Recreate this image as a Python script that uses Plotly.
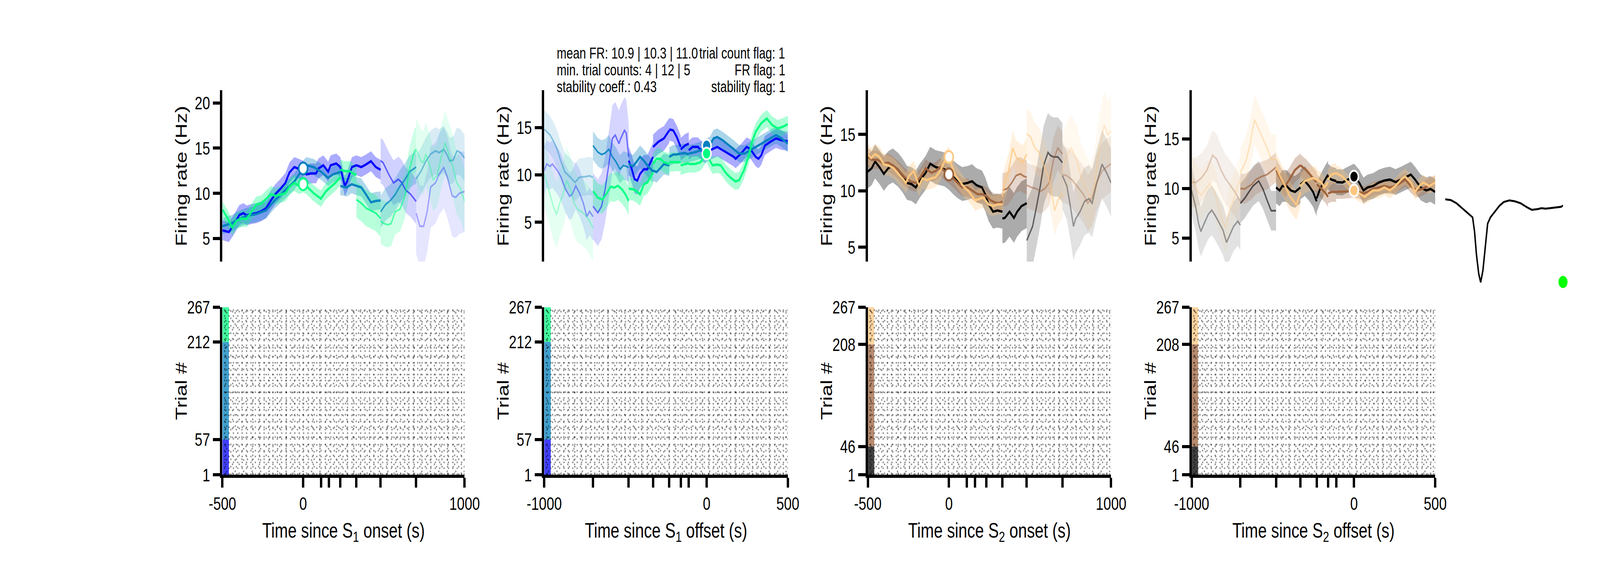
import plotly.graph_objects as go

# ---------------------------------------------------------------- data
S1_DURATIONS = [110, 160, 230, 330, 480, 700]
S1_TRIAL_EDGES = [1, 57, 212, 267]
S2_TRIAL_EDGES = [1, 46, 208, 267]

WINTER = ["#0000ff", "#0080bf", "#00ff80"]
COPPER = ["#000000", "#9f643f", "#ffc77f"]

# --- S1 onset
S1ON_BLUE_T = [-500, -460, -430, -395, -370, -350, -320, -290, -260, -230, -200, -170, -140, -110, -85, -55, -25, 0,
               20, 50, 80, 95, 125, 155, 170, 205, 230, 258, 272, 302, 330, 360, 390, 420, 450, 480,
               480, 495, 530, 560, 590, 612, 635, 665, 700,
               700, 723, 746, 768, 790, 820, 842, 871, 893, 923, 945, 968, 1000]
S1ON_BLUE_FR = [5.9, 5.7, 6.5, 7.6, 7.8, 7.55, 7.7, 7.8, 8.0, 8.35, 9.2, 9.95, 10.5, 11.15, 12.3, 12.9, 12.7, 12.5,
                12.1, 12.2, 12.2, 12.75, 13.1, 12.4, 13.1, 13.3, 12.9, 10.8, 11.3, 12.9, 13.1, 12.9, 13.2, 13.55, 12.9, 12.6,
                13.6, 13.4, 12.1, 11.15, 11.55, 11.15, 10.35, 9.9, 9.1,
                7.8, 6.35, 6.35, 7.95, 10.7, 11.15, 12.1, 12.85, 11.8, 9.7, 9.55, 10.0, 10.2]
S1ON_BLUE_ALPHA = [1, 0.55, 0.3]
S1ON_BLUE_SEM = [1.1, 2.5, 4.5]

S1ON_TEAL_T = [-500, -440, -395, -350, -290, -230, -185, -140, -100, -55, -25, 0, 20, 65, 110, 155, 185, 230,
               230, 270, 300, 330, 360, 390, 420, 450, 480,
               480, 510, 540, 570, 600, 630, 660, 700,
               700, 730, 760, 790, 820, 842, 871, 893, 908, 930, 953, 975, 1000]
S1ON_TEAL_FR = [6.35, 6.7, 7.15, 7.5, 7.7, 8.1, 9.05, 9.85, 10.5, 11.3, 12.1, 12.75, 13.1, 12.9, 12.4, 11.7, 12.1, 12.35,
                10.8, 10.65, 11.0, 10.8, 10.65, 9.85, 9.0, 9.15, 9.2,
                7.95, 8.75, 9.2, 9.85, 10.8, 11.5, 12.4, 12.9,
                11.6, 12.45, 13.55, 14.35, 14.7, 14.5, 14.85, 14.2, 13.55, 13.7, 14.7, 14.5, 13.9]
S1ON_TEAL_ALPHA = [1, 0.95, 0.75, 0.45]
S1ON_TEAL_SEM = [0.9, 1.0, 1.8, 2.6]

S1ON_GREEN_T = [-500, -470, -440, -410, -380, -350, -320, -290, -260, -230, -200, -170, -140, -110, -85, -55, -25, 0,
                20, 65, 110, 140, 170, 200, 230,
                230, 260, 290, 315, 330,
                330, 360, 390, 420, 450, 480,
                480, 500, 525, 545, 570, 600, 630, 660, 690, 700,
                700, 730, 745, 760, 785, 805, 830, 855, 880, 905, 930, 950, 975, 1000]
S1ON_GREEN_FR = [8.2, 7.3, 6.2, 7.0, 7.2, 7.15, 7.95, 8.75, 8.85, 9.4, 9.9, 9.7, 9.85, 10.0, 10.7, 11.15, 10.8, 11.0,
                 10.8, 10.0, 9.4, 10.2, 10.7, 11.15, 11.8,
                 12.6, 12.45, 12.45, 12.1, 12.1,
                 9.3, 8.9, 8.35, 8.1, 7.8, 7.2,
                 6.9, 6.65, 6.5, 6.65, 7.95, 8.25, 9.7, 12.75, 14.7, 14.85,
                 14.85, 13.55, 13.4, 14.35, 13.0, 11.5, 12.0, 14.0, 15.6, 14.2, 12.8, 11.2, 10.5, 9.1]
S1ON_GREEN_ALPHA = [1, 1, 0.85, 0.6, 0.35]
S1ON_GREEN_SEM = [0.9, 1.1, 2.0, 2.5, 3.5]

S1ON_MARK = [12.75, 12.75, 11.0]

# --- S1 offset
S1OFF_BLUE_T = [-1000, -985, -964, -950, -919, -896, -873, -845, -828, -806, -783, -760, -738, -721, -700,
                -700, -670, -647, -625, -602, -580, -563, -540, -529, -506, -495, -480,
                -480, -461, -444, -427, -410, -387, -365, -330,
                -330, -297, -263, -230,
                -230, -206, -184, -160,
                -160, -133, -110,
                -110, -87, -54, -14, 20, 42, 65, 99, 133, 167, 178, 212, 246, 268, 302, 319, 336, 359, 393, 427, 461, 500]
S1OFF_BLUE_FR = [10.45, 11.15, 10.9, 11.15, 10.45, 9.75, 8.65, 7.75, 7.95, 8.85, 8.1, 7.05, 5.6, 6.15, 5.6,
                 6.7, 6.0, 6.7, 8.5, 11.15, 13.85, 14.2, 13.3, 13.85, 14.7, 14.4, 11.9,
                 11.5, 10.6, 9.55, 9.4, 10.1, 10.6, 10.6, 11.9,
                 12.95, 13.5, 13.85, 14.7,
                 14.8, 14.7, 14.0, 12.95,
                 12.7, 13.1, 13.3,
                 12.6, 12.95, 12.95, 12.25, 12.6, 12.75, 12.95, 12.6, 12.25, 11.9, 11.7, 12.25, 12.95, 12.75, 11.9, 11.7,
                 12.05, 13.1, 13.5, 13.85, 13.65, 13.55]
S1OFF_BLUE_ALPHA = [0.35, 0.5, 0.95, 1, 1, 1, 1]
S1OFF_BLUE_SEM = [2.5, 3.5, 1.5, 1.3, 1.2, 1.2, 1.0]

S1OFF_TEAL_T = [-1000, -992, -964, -941, -919, -896, -873, -839, -811, -783, -749, -721, -700,
                -700, -670, -647, -625, -602, -580, -557, -534, -512, -480,
                -480, -455, -433, -410, -387, -365, -330,
                -330, -308, -286, -263, -230,
                -230, -206, -184, -160,
                -160, -133, -110,
                -110, -71, -37, 0, 20, 42, 65, 99, 133, 167, 200, 234, 268, 302, 336, 370, 404, 427, 461, 500]
S1OFF_TEAL_FR = [14.8, 14.7, 14.2, 13.5, 12.6, 11.35, 10.3, 9.75, 9.2, 9.75, 9.8, 9.9, 9.75,
                 13.1, 12.4, 12.15, 12.3, 12.7, 11.9, 11.35, 10.6, 11.0, 10.8,
                 11.15, 10.9, 11.35, 11.9, 11.5, 11.0, 10.35,
                 10.45, 10.3, 10.7, 11.15, 11.0,
                 11.9, 12.15, 12.15, 12.25,
                 12.25, 12.3, 12.15,
                 12.25, 12.4, 12.6, 12.95, 13.1, 13.85, 14.0, 13.65, 13.2, 12.75, 12.25, 12.25, 12.6, 12.95, 13.3, 13.65,
                 14.0, 14.2, 13.85, 13.3]
S1OFF_TEAL_ALPHA = [0.4, 0.85, 1, 1, 1, 1, 1]
S1OFF_TEAL_SEM = [2.0, 1.5, 1.2, 1.1, 1.0, 1.0, 0.9]

S1OFF_GREEN_T = [-1000, -964, -941, -924, -907, -885, -862, -839, -817, -794, -772, -749, -726, -700,
                 -700, -670, -642, -619, -591, -569, -546, -523, -500, -480,
                 -480, -455, -433, -410, -387, -365, -330,
                 -330, -308, -286, -263, -230,
                 -230, -206, -184, -160,
                 -160, -133, -110,
                 -110, -71, -37, 0, 20, 37, 65, 87, 116, 144, 178, 200, 229, 257, 280, 302, 336, 370, 404, 438, 472, 500]
S1OFF_GREEN_FR = [10.1, 7.95, 6.5, 5.8, 6.9, 7.95, 9.4, 8.5, 7.05, 6.35, 6.15, 5.8, 5.25, 4.4,
                  8.3, 7.6, 7.4, 7.95, 8.75, 8.65, 8.85, 8.5, 7.95, 7.25,
                  8.55, 8.5, 8.3, 7.95, 9.0, 9.2, 10.25,
                  11.15, 11.7, 11.7, 11.35, 11.15,
                  11.35, 11.35, 11.4, 11.35,
                  11.0, 11.15, 11.25,
                  11.15, 11.15, 11.35, 12.25, 11.5, 11.0, 11.1, 11.0, 10.25, 9.75, 9.3, 9.45, 10.45, 11.9, 13.5, 14.55,
                  15.45, 15.95, 15.25, 14.9, 15.1, 15.35]
S1OFF_GREEN_ALPHA = [0.3, 0.9, 1, 1, 1, 1, 1]
S1OFF_GREEN_SEM = [3.5, 1.5, 1.2, 1.1, 1.0, 1.0, 0.9]

S1OFF_MARK = [13.1, 13.1, 12.25]

# --- S2 onset
S2ON_BLACK_T = [-500, -476, -455, -428, -401, -374, -346, -312, -285, -258, -231, -204, -177, -143, -115, -82, -54, -27,
                0, 27, 54, 82, 115, 143, 170, 204, 224, 245, 272, 299, 330,
                330, 345, 374, 401, 421, 448, 480,
                480, 516, 543, 564, 584, 611, 625, 645, 672, 700,
                700, 727, 747, 768, 781, 808, 836, 863, 883, 910, 944, 972, 1000]
S2ON_BLACK_FR = [11.7, 12.0, 12.6, 12.1, 11.5, 12.0, 12.25, 11.85, 11.35, 10.7, 10.6, 10.3, 10.95, 11.6, 12.4, 12.1, 12.0, 11.9,
                 11.6, 11.2, 10.85, 10.6, 10.7, 10.85, 10.5, 10.3, 9.7, 8.8, 8.15, 8.25, 8.15,
                 7.55, 7.6, 8.15, 7.6, 8.15, 8.65, 8.9,
                 5.6, 6.85, 8.8, 10.45, 12.25, 13.4, 13.15, 13.0, 13.0, 12.5,
                 11.35, 10.45, 8.8, 6.85, 7.5, 8.15, 9.05, 9.3, 8.9, 10.6, 12.35, 11.6, 10.7]
S2ON_BLACK_ALPHA = [1, 1, 0.55, 0.35]
S2ON_BLACK_SEM = [1.5, 2.2, 3.5, 3.0]

S2ON_BROWN_T = [-500, -476, -440, -401, -374, -346, -306, -272, -238, -204, -177, -143, -109, -82, -54, 0, 27, 54, 82,
                115, 143, 177, 204, 231, 258, 285, 310, 330,
                330, 360, 387, 414, 441, 461, 480,
                480, 510, 537, 564, 591, 618, 645, 672, 700,
                700, 727, 761, 795, 829, 856, 883, 910, 944, 972, 1000]
S2ON_BROWN_FR = [13.0, 12.75, 12.75, 12.4, 12.5, 12.25, 11.75, 11.2, 10.85, 10.7, 11.2, 12.0, 11.6, 11.75, 12.1, 11.45, 11.1,
                 10.7, 10.3, 10.3, 10.05, 9.7, 9.7, 9.55, 9.15, 8.95, 8.9, 9.05,
                 10.05, 10.2, 10.7, 11.35, 11.5, 11.3, 11.2,
                 10.5, 10.3, 10.2, 9.95, 10.2, 10.7, 12.75, 13.8, 13.25,
                 11.45, 11.35, 10.95, 10.3, 9.7, 8.9, 9.4, 10.7, 11.75, 12.1, 12.4]
S2ON_BROWN_ALPHA = [1, 0.8, 0.5, 0.35]
S2ON_BROWN_SEM = [0.8, 1.5, 2.0, 2.5]

S2ON_ORANGE_T = [-500, -480, -455, -428, -401, -374, -340, -312, -285, -265, -245, -217, -197, -184, -163, -136, -109, -82,
                 -54, -27, 0, 20, 41, 68, 95, 122, 143, 163, 190, 211, 231, 245, 272, 299, 330,
                 330, 340, 367, 394, 414, 435, 455, 480,
                 480, 503, 530, 557, 584, 611, 632, 652, 672, 700,
                 700, 727, 754, 788, 815, 842, 870, 897, 924, 958, 979, 1000]
S2ON_ORANGE_FR = [13.25, 12.9, 13.25, 13.0, 12.35, 12.25, 12.0, 11.5, 11.1, 10.7, 11.35, 11.75, 10.95, 10.45, 11.1, 10.95,
                  11.1, 11.2, 11.75, 12.6, 13.0, 12.1, 11.35, 10.85, 10.3, 9.95, 9.55, 9.15, 9.3, 9.4, 9.05, 8.8, 8.65, 8.8, 8.8,
                  9.5, 10.45, 11.75, 13.8, 13.0, 12.75, 12.5, 13.25,
                  15.05, 14.8, 13.8, 13.4, 12.25, 11.35, 9.95, 8.25, 9.15, 9.8,
                  11.75, 13.0, 13.8, 12.75, 11.2, 10.3, 9.4, 10.45, 13.5, 15.85, 14.95, 15.3]
S2ON_ORANGE_ALPHA = [1, 0.8, 0.55, 0.35]
S2ON_ORANGE_SEM = [0.9, 1.5, 2.2, 3.0]

S2ON_MARK = [11.45, 11.45, 13.0]

# --- S2 offset
S2OFF_BLACK_T = [-1000, -974, -957, -943, -923, -897, -876, -854, -828, -807, -785, -768, -742, -716, -700,
                 -700, -673, -647, -622, -587, -561, -536, -510, -480,
                 -480, -458, -441, -415, -389, -363, -330,
                 -330, -303, -277, -252, -230,
                 -230, -209, -183, -160,
                 -160, -140, -110,
                 -110, -71, -37, 0, 32, 58, 84, 118, 153, 187, 221, 256, 290, 325, 350, 376, 411, 445, 471, 500]
S2OFF_BLACK_FR = [9.8, 8.05, 6.45, 5.65, 6.45, 7.4, 7.8, 7.25, 6.45, 5.8, 4.55, 5.2, 6.15, 6.7, 6.3,
                  8.5, 9.0, 9.65, 10.25, 10.75, 9.95, 8.85, 7.75, 7.75,
                  10.1, 9.8, 10.25, 10.25, 9.8, 9.65, 10.1,
                  10.4, 10.75, 10.25, 9.65, 8.7,
                  9.0, 9.95, 10.75, 11.4,
                  11.2, 10.9, 10.75,
                  10.65, 10.6, 10.9, 11.2, 10.6, 9.8, 10.1, 10.25, 10.6, 10.8, 10.9, 10.65, 10.9, 11.2, 11.4, 10.9, 10.1,
                  9.8, 9.95, 9.65]
S2OFF_BLACK_ALPHA = [0.35, 0.6, 1, 1, 1, 1, 1]
S2OFF_BLACK_SEM = [2.5, 2.0, 1.6, 1.5, 1.4, 1.3, 1.3]

S2OFF_BROWN_T = [-1000, -974, -940, -905, -871, -845, -819, -794, -759, -733, -700,
                 -700, -673, -630, -605, -570, -536, -501, -480,
                 -480, -450, -424, -398, -364, -330,
                 -330, -295, -260, -230,
                 -230, -200, -174, -160,
                 -160, -136, -110,
                 -110, -71, -37, 0, 32, 58, 84, 118, 153, 187, 221, 256, 290, 316, 350, 385, 419, 454, 500]
S2OFF_BROWN_FR = [10.65, 10.6, 11.05, 11.85, 13.35, 12.95, 11.85, 11.05, 10.25, 9.65, 8.7,
                  10.0, 9.95, 10.4, 10.9, 11.2, 11.4, 11.85, 12.15,
                  11.85, 10.9, 10.25, 10.9, 11.85, 12.35,
                  12.35, 11.85, 11.2, 10.6,
                  10.45, 9.95, 9.5, 9.15,
                  9.5, 9.65, 9.65,
                  9.65, 9.65, 9.7, 9.8, 9.65, 9.5, 9.65, 9.95, 10.1, 10.25, 10.1, 10.25, 10.6, 10.9, 10.25, 9.8, 9.95,
                  10.25, 10.6]
S2OFF_BROWN_ALPHA = [0.3, 0.7, 1, 1, 1, 1, 1]
S2OFF_BROWN_SEM = [2.5, 1.5, 1.2, 1.1, 1.0, 1.0, 0.7]

S2OFF_ORANGE_T = [-1000, -974, -940, -914, -888, -862, -837, -811, -790, -768, -742, -716, -700,
                  -700, -665, -639, -613, -587, -561, -536, -510, -480,
                  -480, -450, -424, -398, -372, -355, -330,
                  -330, -303, -277, -252, -230,
                  -230, -200, -183, -160,
                  -160, -140, -110,
                  -110, -71, -37, 0, 32, 66, 92, 118, 153, 187, 221, 256, 290, 316, 350, 376, 402, 428, 462, 500]
S2OFF_ORANGE_FR = [11.05, 9.95, 9.3, 9.95, 10.45, 9.8, 8.35, 6.8, 6.0, 7.75, 8.85, 10.25, 10.9,
                   11.55, 12.8, 14.55, 16.95, 16.0, 15.05, 14.1, 12.95, 12.95,
                   12.15, 11.05, 10.25, 9.3, 8.7, 8.35, 9.65,
                   10.25, 10.75, 10.9, 11.05, 10.9,
                   10.9, 10.6, 10.1, 10.6,
                   10.9, 11.4, 11.55,
                   11.55, 11.2, 10.6, 9.8, 9.5, 9.15, 9.5, 9.8, 9.8, 10.1, 9.8, 10.25, 10.9, 11.2, 10.6, 9.65, 10.25,
                   10.6, 10.25, 10.6]
S2OFF_ORANGE_ALPHA = [0.3, 0.45, 0.9, 1, 1, 1, 1]
S2OFF_ORANGE_SEM = [2.5, 2.5, 1.5, 1.2, 1.0, 1.0, 0.8]

S2OFF_MARK = [11.2, 9.8, 9.8]

# --- unit waveform (samples, arbitrary units)
WF_T = [0, 2, 4, 6, 7.5, 9, 9.8, 10.5, 11.2, 12, 12.7, 13.5, 14.3, 15.2, 16.2, 18, 19.5, 21, 23, 25, 27, 29, 31, 33,
        34.5, 36, 38, 40, 41.5, 42.2]
WF_V = [0, -0.5, -2.5, -5.5, -8, -10.3, -11.5, -20.5, -35.5, -47.5, -53, -45.5, -30.5, -15.5, -11.5, -7.5, -4, -1.7,
        -0.7, -1.3, -2.5, -4.8, -6.7, -6.3, -5.7, -6, -5.5, -5.2, -4.8, -4]
UNIT_DOT_T, UNIT_DOT_V = 42.2, -52.8

# --- quality metrics
MEAN_FR = [10.9, 10.3, 11.0]
MIN_TRIALS = [4, 12, 5]
STABILITY_COEFF = 0.43
FLAG_NAMES = ["trial count flag", "FR flag", "stability flag"]
FLAG_VALUES = [1, 1, 1]

# ---------------------------------------------------------------- layout (pixels of the 5469x1437 canvas)
FIG_W, FIG_H = 5469, 1437
PANEL_X = [(715, 1560), (1838, 2688), (2967, 3816), (4097, 4947)]
TOP_Y = (212, 668)
RASTER_Y = (789, 1235)
TITLE_X = [571, 1694, 2823, 3953]
XTITLE_Y = 1386
WF_X, WF_Y = (4982, 5393), (480, 740)

FONT = "Liberation Sans"
TICK_SIZE, TITLE_SIZE, NOTE_SIZE = 47, 54, 40
SPINE_W, TICK_LEN = 8, 25
BAND_ALPHA, STRIP_ALPHA, STRIP_MS = 0.33, 0.75, 40
# spike texture: four incommensurate dot lattices (cell size px, dot solidity)
PATTERN_LAYERS = [(15, 0.068), (19, 0.042), (23, 0.029), (29, 0.018)]


def px_x(x):
    return x / FIG_W


def px_y(y):
    return 1 - y / FIG_H


def rgba(hex_color, a):
    h = hex_color.lstrip("#")
    r, g, b = int(h[0:2], 16), int(h[2:4], 16), int(h[4:6], 16)
    return f"rgba({r},{g},{b},{a:.3f})"


def segments(t, fr):
    assert len(t) == len(fr)
    out = [([t[0]], [fr[0]])]
    for a, b in zip(t[1:], fr[1:]):
        if a == out[-1][0][-1]:
            out.append(([a], [b]))
        else:
            out[-1][0].append(a)
            out[-1][1].append(b)
    return out


def axis_ids(n):
    return ("x", "y") if n == 1 else (f"x{n}", f"y{n}")


PANELS = [
    dict(xr=(-500, 1000), yr=(2.42, 21.41), yt=[5, 10, 15, 20], colors=WINTER, onset=True,
         curves=[(S1ON_BLUE_T, S1ON_BLUE_FR, S1ON_BLUE_ALPHA, S1ON_BLUE_SEM),
                 (S1ON_TEAL_T, S1ON_TEAL_FR, S1ON_TEAL_ALPHA, S1ON_TEAL_SEM),
                 (S1ON_GREEN_T, S1ON_GREEN_FR, S1ON_GREEN_ALPHA, S1ON_GREEN_SEM)],
         marks=S1ON_MARK, edges=S1_TRIAL_EDGES, xtitle="Time since S<sub>1</sub> onset (s)"),
    dict(xr=(-1000, 500), yr=(0.84, 18.93), yt=[5, 10, 15], colors=WINTER, onset=False,
         curves=[(S1OFF_BLUE_T, S1OFF_BLUE_FR, S1OFF_BLUE_ALPHA, S1OFF_BLUE_SEM),
                 (S1OFF_TEAL_T, S1OFF_TEAL_FR, S1OFF_TEAL_ALPHA, S1OFF_TEAL_SEM),
                 (S1OFF_GREEN_T, S1OFF_GREEN_FR, S1OFF_GREEN_ALPHA, S1OFF_GREEN_SEM)],
         marks=S1OFF_MARK, edges=S1_TRIAL_EDGES, xtitle="Time since S<sub>1</sub> offset (s)"),
    dict(xr=(-500, 1000), yr=(3.72, 18.91), yt=[5, 10, 15], colors=COPPER, onset=True,
         curves=[(S2ON_BLACK_T, S2ON_BLACK_FR, S2ON_BLACK_ALPHA, S2ON_BLACK_SEM),
                 (S2ON_BROWN_T, S2ON_BROWN_FR, S2ON_BROWN_ALPHA, S2ON_BROWN_SEM),
                 (S2ON_ORANGE_T, S2ON_ORANGE_FR, S2ON_ORANGE_ALPHA, S2ON_ORANGE_SEM)],
         marks=S2ON_MARK, edges=S2_TRIAL_EDGES, xtitle="Time since S<sub>2</sub> onset (s)"),
    dict(xr=(-1000, 500), yr=(2.6, 19.92), yt=[5, 10, 15], colors=COPPER, onset=False,
         curves=[(S2OFF_BLACK_T, S2OFF_BLACK_FR, S2OFF_BLACK_ALPHA, S2OFF_BLACK_SEM),
                 (S2OFF_BROWN_T, S2OFF_BROWN_FR, S2OFF_BROWN_ALPHA, S2OFF_BROWN_SEM),
                 (S2OFF_ORANGE_T, S2OFF_ORANGE_FR, S2OFF_ORANGE_ALPHA, S2OFF_ORANGE_SEM)],
         marks=S2OFF_MARK, edges=S2_TRIAL_EDGES, xtitle="Time since S<sub>2</sub> offset (s)"),
]

fig = go.Figure()
layout = {}
annotations = []

axis_common = dict(showline=True, linewidth=SPINE_W, linecolor="black", ticks="outside",
                   ticklen=TICK_LEN, tickwidth=SPINE_W, tickcolor="black",
                   tickfont=dict(size=TICK_SIZE, color="black", family=FONT),
                   showgrid=False, zeroline=False, fixedrange=True)

for i, p in enumerate(PANELS):
    xa, ya = axis_ids(2 * i + 1)
    xb, yb = axis_ids(2 * i + 2)
    x0, x1 = PANEL_X[i]
    xdom = [px_x(x0), px_x(x1)]

    # ---- firing rate traces: bands first, then lines
    lines = []
    for c, (t, fr, alphas, sems) in enumerate(p["curves"]):
        col = p["colors"][c]
        segs = segments(t, fr)
        assert len(segs) == len(alphas) == len(sems)
        for k, (st, sf) in enumerate(segs):
            up = [v + sems[k] for v in sf]
            lo = [v - sems[k] for v in sf]
            fig.add_trace(go.Scatter(
                x=st + st[::-1], y=up + lo[::-1], fill="toself", mode="lines",
                line=dict(width=0), fillcolor=rgba(col, BAND_ALPHA * alphas[k]),
                hoverinfo="skip", showlegend=False, xaxis=xa, yaxis=ya))
            lines.append((st, sf, rgba(col, alphas[k]), 6 if alphas[k] >= 0.9 else 4.5))
    for st, sf, col, w in lines:
        fig.add_trace(go.Scatter(x=st, y=sf, mode="lines", line=dict(color=col, width=w),
                                 hoverinfo="skip", showlegend=False, xaxis=xa, yaxis=ya))
    for c, v in enumerate(p["marks"]):
        col = p["colors"][c]
        fill, edge = ("white", col) if p["onset"] else (col, "white")
        fig.add_trace(go.Scatter(x=[0], y=[v], mode="markers",
                                 marker=dict(size=30, color=fill, line=dict(color=edge, width=5)),
                                 hoverinfo="skip", showlegend=False, xaxis=xa, yaxis=ya))

    # ---- raster: condition strip + spike texture
    e = p["edges"]
    span = p["xr"][1] - p["xr"][0]
    for c in range(3):
        fig.add_trace(go.Bar(orientation="h", y=[(e[c] + e[c + 1]) / 2], width=[e[c + 1] - e[c]],
                             x=[STRIP_MS], base=[p["xr"][0]],
                             marker=dict(color=rgba(p["colors"][c], STRIP_ALPHA), line=dict(width=0)),
                             hoverinfo="skip", showlegend=False, xaxis=xb, yaxis=yb))
    for size, sol in PATTERN_LAYERS:
        fig.add_trace(go.Bar(orientation="h", y=[(e[0] + e[-1]) / 2], width=[e[-1] - e[0]],
                             x=[span], base=[p["xr"][0]],
                             marker=dict(color="black", line=dict(width=0),
                                         pattern=dict(shape=".", size=size, solidity=sol,
                                                      fgcolor="black", bgcolor="rgba(0,0,0,0)")),
                             hoverinfo="skip", showlegend=False, xaxis=xb, yaxis=yb))

    minor_vals = S1_DURATIONS if p["onset"] else [-d for d in S1_DURATIONS]
    major_vals = [p["xr"][0], 0, p["xr"][1]]

    layout["xaxis" if i == 0 else f"xaxis{2 * i + 1}"] = dict(
        domain=xdom, range=list(p["xr"]), visible=False, anchor=ya, fixedrange=True)
    layout["yaxis" if i == 0 else f"yaxis{2 * i + 1}"] = dict(
        axis_common, domain=[px_y(TOP_Y[1]), px_y(TOP_Y[0])], range=list(p["yr"]),
        tickvals=p["yt"], anchor=xa)
    layout[f"xaxis{2 * i + 2}"] = dict(
        axis_common, domain=xdom, range=list(p["xr"]), tickvals=major_vals,
        ticktext=[str(v) for v in major_vals], anchor=yb,
        minor=dict(tickvals=minor_vals, ticks="outside", ticklen=TICK_LEN, tickwidth=SPINE_W,
                   tickcolor="black", showgrid=False))
    layout[f"yaxis{2 * i + 2}"] = dict(
        axis_common, domain=[px_y(RASTER_Y[1]), px_y(RASTER_Y[0])], range=[e[0], e[-1]],
        tickvals=e, ticktext=[str(v) for v in e], anchor=xb)

    title_font = dict(size=TITLE_SIZE, color="black", family=FONT)
    annotations += [
        dict(text="Firing rate (Hz)", textangle=-90, x=px_x(TITLE_X[i]), y=px_y(sum(TOP_Y) / 2),
             xref="paper", yref="paper", showarrow=False, xanchor="center", yanchor="middle", font=title_font),
        dict(text="Trial #", textangle=-90, x=px_x(TITLE_X[i]), y=px_y(sum(RASTER_Y) / 2),
             xref="paper", yref="paper", showarrow=False, xanchor="center", yanchor="middle", font=title_font),
        dict(text=p["xtitle"], x=px_x((x0 + x1) / 2), y=px_y(XTITLE_Y),
             xref="paper", yref="paper", showarrow=False, xanchor="center", yanchor="middle", font=title_font),
    ]

# ---- unit waveform
fig.add_trace(go.Scatter(x=WF_T, y=WF_V, mode="lines", line=dict(color="black", width=5),
                         hoverinfo="skip", showlegend=False, xaxis="x9", yaxis="y9"))
fig.add_trace(go.Scatter(x=[UNIT_DOT_T], y=[UNIT_DOT_V], mode="markers", cliponaxis=False,
                         marker=dict(size=31, color="#00ff00"),
                         hoverinfo="skip", showlegend=False, xaxis="x9", yaxis="y9"))
layout["xaxis9"] = dict(domain=[px_x(WF_X[0]), px_x(WF_X[1])], range=[0, 42.2], visible=False, anchor="y9")
layout["yaxis9"] = dict(domain=[px_y(WF_Y[1]), px_y(WF_Y[0])], range=[-57.12, 5.28], visible=False, anchor="x9")

# ---- quality-metric text above the S1-offset panel
left_lines = [
    "mean FR: " + " | ".join(f"{v:.1f}" for v in MEAN_FR),
    "min. trial counts: " + " | ".join(str(v) for v in MIN_TRIALS),
    f"stability coeff.: {STABILITY_COEFF:.2f}",
]
right_lines = [f"{n}: {v}" for n, v in zip(FLAG_NAMES, FLAG_VALUES)]
note_font = dict(size=NOTE_SIZE, color="black", family=FONT)
for k, y in enumerate([113, 158, 202]):
    annotations.append(dict(text=left_lines[k], x=px_x(1880), y=px_y(y), xref="paper", yref="paper",
                            showarrow=False, xanchor="left", yanchor="middle", font=note_font))
    annotations.append(dict(text=right_lines[k], x=px_x(2681), y=px_y(y), xref="paper", yref="paper",
                            showarrow=False, xanchor="right", yanchor="middle", font=note_font))

fig.update_layout(
    **layout,
    annotations=annotations,
    width=FIG_W, height=FIG_H, autosize=False,
    margin=dict(l=0, r=0, t=0, b=0),
    paper_bgcolor="white", plot_bgcolor="white",
    font=dict(family=FONT, color="black"),
    barmode="overlay", showlegend=False,
)

# the canvas is laid out at the reference's 5469x1437 pixels; fit it onto the browser viewport
fit_page = (
    "var gd = document.getElementById('{plot_id}');"
    "var sx = window.innerWidth / " + str(FIG_W) + ";"
    "var sy = window.innerHeight / " + str(FIG_H) + ";"
    "document.documentElement.style.margin = '0';"
    "document.documentElement.style.overflow = 'hidden';"
    "document.body.style.margin = '0';"
    "document.body.style.overflow = 'hidden';"
    "var box = gd.parentElement;"
    "box.style.width = window.innerWidth + 'px';"
    "box.style.height = window.innerHeight + 'px';"
    "box.style.overflow = 'hidden';"
    "gd.style.transformOrigin = '0 0';"
    "gd.style.transform = 'scale(' + sx + ',' + sy + ')';"
)
fig.write_html("out.html", config={"displayModeBar": False}, post_script=fit_page)
